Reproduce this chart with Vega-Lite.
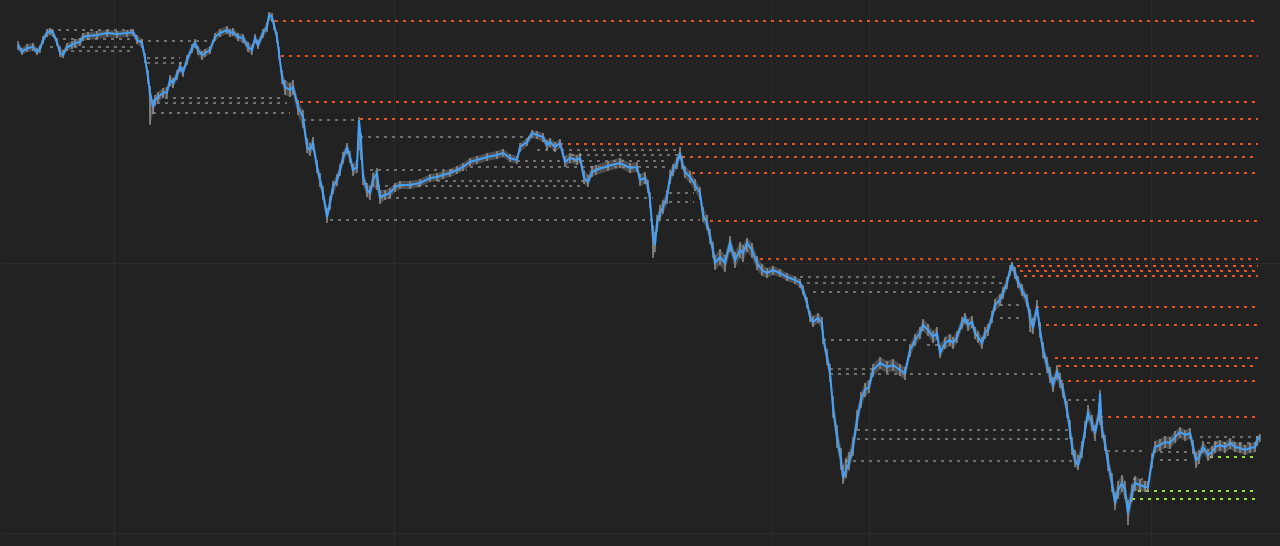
{
  "$schema": "https://vega.github.io/schema/vega-lite/v6.json",
  "width": 1280,
  "height": 546,
  "autosize": {"type": "fit", "contains": "padding"},
  "padding": 0,
  "background": "#222222",
  "config": {
    "view": {"stroke": null},
    "axis": {"labels": false, "ticks": false, "domain": false, "title": null, "grid": true, "gridColor": "#2b2b2b", "gridWidth": 1}
  },
  "datasets": {
    "px": [
      {"x":18,"c":45,"h":41,"l":50},{"x":22,"c":52,"h":48,"l":55},{"x":27,"c":48,"h":44,"l":52},{"x":33,"c":47,"h":43,"l":51},{"x":37,"c":52,"h":48,"l":55},{"x":40,"c":49,"h":45,"l":53},{"x":43,"c":40,"h":36,"l":44},{"x":47,"c":33,"h":29,"l":37},{"x":50,"c":31,"h":28,"l":35},{"x":53,"c":33,"h":30,"l":37},{"x":57,"c":42,"h":38,"l":46},{"x":60,"c":53,"h":48,"l":57},{"x":63,"c":55,"h":50,"l":58},{"x":67,"c":47,"h":43,"l":51},{"x":72,"c":45,"h":41,"l":49},{"x":75,"c":43,"h":39,"l":47},{"x":80,"c":42,"h":38,"l":46},{"x":83,"c":37,"h":33,"l":41},{"x":88,"c":36,"h":32,"l":40},{"x":97,"c":35,"h":31,"l":39},{"x":107,"c":33,"h":30,"l":37},{"x":117,"c":34,"h":31,"l":38},{"x":127,"c":33,"h":30,"l":37},{"x":133,"c":32,"h":29,"l":36},{"x":137,"c":40,"h":35,"l":44},{"x":142,"c":43,"h":39,"l":48},{"x":145,"c":58,"h":53,"l":63},{"x":148,"c":77,"h":70,"l":84},{"x":150,"c":93,"h":86,"l":125},{"x":153,"c":107,"h":100,"l":114},{"x":155,"c":100,"h":95,"l":106},{"x":158,"c":97,"h":92,"l":102},{"x":163,"c":93,"h":88,"l":98},{"x":167,"c":92,"h":87,"l":97},{"x":170,"c":80,"h":75,"l":86},{"x":173,"c":83,"h":78,"l":88},{"x":177,"c":75,"h":70,"l":80},{"x":180,"c":67,"h":62,"l":72},{"x":183,"c":72,"h":67,"l":77},{"x":187,"c":60,"h":55,"l":65},{"x":192,"c":48,"h":44,"l":53},{"x":195,"c":43,"h":39,"l":48},{"x":198,"c":50,"h":46,"l":55},{"x":202,"c":55,"h":51,"l":60},{"x":205,"c":53,"h":49,"l":57},{"x":210,"c":50,"h":46,"l":54},{"x":215,"c":37,"h":33,"l":41},{"x":220,"c":33,"h":29,"l":37},{"x":227,"c":30,"h":26,"l":34},{"x":230,"c":33,"h":29,"l":37},{"x":233,"c":32,"h":28,"l":36},{"x":238,"c":37,"h":33,"l":41},{"x":243,"c":38,"h":34,"l":43},{"x":248,"c":47,"h":42,"l":52},{"x":252,"c":50,"h":45,"l":55},{"x":255,"c":38,"h":34,"l":43},{"x":258,"c":45,"h":40,"l":49},{"x":263,"c":33,"h":29,"l":38},{"x":267,"c":27,"h":22,"l":32},{"x":269,"c":15,"h":12,"l":20},{"x":272,"c":17,"h":13,"l":22},{"x":274,"c":25,"h":20,"l":30},{"x":277,"c":37,"h":32,"l":43},{"x":279,"c":53,"h":47,"l":59},{"x":282,"c":77,"h":70,"l":84},{"x":285,"c":87,"h":80,"l":95},{"x":290,"c":90,"h":83,"l":97},{"x":293,"c":87,"h":80,"l":95},{"x":298,"c":107,"h":100,"l":115},{"x":303,"c":117,"h":110,"l":128},{"x":307,"c":147,"h":138,"l":153},{"x":310,"c":150,"h":143,"l":156},{"x":313,"c":143,"h":137,"l":150},{"x":317,"c":167,"h":160,"l":173},{"x":320,"c":180,"h":173,"l":187},{"x":323,"c":193,"h":186,"l":200},{"x":327,"c":217,"h":208,"l":223},{"x":330,"c":203,"h":196,"l":210},{"x":333,"c":187,"h":181,"l":194},{"x":337,"c":180,"h":174,"l":186},{"x":340,"c":170,"h":164,"l":176},{"x":343,"c":158,"h":152,"l":164},{"x":347,"c":148,"h":143,"l":154},{"x":350,"c":157,"h":151,"l":163},{"x":353,"c":170,"h":164,"l":176},{"x":357,"c":167,"h":160,"l":173},{"x":359,"c":120,"h":117,"l":150},{"x":361,"c":140,"h":133,"l":160},{"x":363,"c":177,"h":170,"l":185},{"x":367,"c":190,"h":183,"l":197},{"x":370,"c":193,"h":186,"l":200},{"x":373,"c":180,"h":173,"l":187},{"x":377,"c":173,"h":168,"l":190},{"x":380,"c":197,"h":190,"l":204},{"x":385,"c":195,"h":190,"l":200},{"x":390,"c":193,"h":188,"l":198},{"x":395,"c":187,"h":183,"l":192},{"x":400,"c":185,"h":181,"l":189},{"x":410,"c":185,"h":181,"l":189},{"x":420,"c":183,"h":179,"l":187},{"x":430,"c":178,"h":174,"l":182},{"x":437,"c":177,"h":173,"l":181},{"x":443,"c":175,"h":171,"l":179},{"x":450,"c":173,"h":169,"l":177},{"x":457,"c":170,"h":166,"l":174},{"x":463,"c":167,"h":163,"l":171},{"x":470,"c":162,"h":158,"l":166},{"x":477,"c":160,"h":156,"l":164},{"x":487,"c":157,"h":153,"l":161},{"x":497,"c":155,"h":151,"l":159},{"x":503,"c":153,"h":149,"l":157},{"x":510,"c":158,"h":154,"l":162},{"x":517,"c":160,"h":156,"l":164},{"x":520,"c":147,"h":143,"l":152},{"x":527,"c":142,"h":138,"l":146},{"x":532,"c":133,"h":130,"l":138},{"x":537,"c":135,"h":131,"l":139},{"x":543,"c":137,"h":133,"l":142},{"x":547,"c":145,"h":140,"l":150},{"x":550,"c":142,"h":138,"l":147},{"x":555,"c":147,"h":142,"l":152},{"x":560,"c":143,"h":139,"l":148},{"x":565,"c":162,"h":156,"l":167},{"x":570,"c":158,"h":153,"l":163},{"x":577,"c":160,"h":155,"l":165},{"x":580,"c":158,"h":153,"l":163},{"x":584,"c":178,"h":170,"l":184},{"x":588,"c":182,"h":175,"l":187},{"x":592,"c":172,"h":166,"l":177},{"x":596,"c":170,"h":165,"l":175},{"x":608,"c":166,"h":161,"l":171},{"x":620,"c":163,"h":158,"l":168},{"x":630,"c":168,"h":163,"l":173},{"x":637,"c":167,"h":162,"l":172},{"x":640,"c":180,"h":174,"l":186},{"x":645,"c":178,"h":172,"l":184},{"x":648,"c":186,"h":180,"l":193},{"x":650,"c":200,"h":192,"l":208},{"x":653,"c":237,"h":225,"l":258},{"x":655,"c":245,"h":232,"l":252},{"x":657,"c":223,"h":215,"l":232},{"x":660,"c":213,"h":205,"l":220},{"x":663,"c":207,"h":200,"l":214},{"x":667,"c":197,"h":190,"l":204},{"x":670,"c":177,"h":170,"l":184},{"x":673,"c":170,"h":164,"l":176},{"x":677,"c":163,"h":157,"l":169},{"x":680,"c":153,"h":147,"l":159},{"x":682,"c":163,"h":156,"l":169},{"x":685,"c":172,"h":166,"l":178},{"x":690,"c":177,"h":171,"l":183},{"x":695,"c":185,"h":179,"l":191},{"x":700,"c":193,"h":187,"l":200},{"x":703,"c":215,"h":207,"l":222},{"x":707,"c":223,"h":215,"l":230},{"x":710,"c":237,"h":229,"l":244},{"x":713,"c":250,"h":242,"l":258},{"x":715,"c":263,"h":255,"l":270},{"x":720,"c":257,"h":249,"l":265},{"x":725,"c":263,"h":255,"l":272},{"x":730,"c":243,"h":236,"l":252},{"x":735,"c":260,"h":252,"l":268},{"x":740,"c":250,"h":242,"l":258},{"x":743,"c":253,"h":245,"l":262},{"x":747,"c":243,"h":238,"l":252},{"x":752,"c":250,"h":243,"l":258},{"x":757,"c":263,"h":256,"l":270},{"x":762,"c":270,"h":264,"l":276},{"x":767,"c":273,"h":268,"l":278},{"x":773,"c":270,"h":266,"l":275},{"x":780,"c":273,"h":269,"l":277},{"x":787,"c":277,"h":273,"l":281},{"x":795,"c":280,"h":276,"l":284},{"x":800,"c":283,"h":279,"l":288},{"x":803,"c":290,"h":285,"l":295},{"x":807,"c":303,"h":297,"l":308},{"x":810,"c":317,"h":311,"l":322},{"x":813,"c":322,"h":316,"l":327},{"x":818,"c":318,"h":313,"l":323},{"x":822,"c":323,"h":317,"l":330},{"x":823,"c":337,"h":330,"l":344},{"x":827,"c":357,"h":349,"l":365},{"x":830,"c":373,"h":364,"l":382},{"x":833,"c":407,"h":396,"l":418},{"x":837,"c":437,"h":425,"l":448},{"x":841,"c":460,"h":448,"l":470},{"x":843,"c":478,"h":465,"l":484},{"x":846,"c":470,"h":458,"l":478},{"x":849,"c":463,"h":452,"l":470},{"x":853,"c":447,"h":437,"l":456},{"x":857,"c":420,"h":410,"l":430},{"x":861,"c":400,"h":392,"l":408},{"x":865,"c":390,"h":383,"l":397},{"x":869,"c":387,"h":380,"l":393},{"x":873,"c":370,"h":364,"l":377},{"x":880,"c":363,"h":357,"l":369},{"x":887,"c":367,"h":361,"l":373},{"x":893,"c":365,"h":359,"l":371},{"x":900,"c":370,"h":364,"l":376},{"x":905,"c":373,"h":367,"l":380},{"x":910,"c":350,"h":344,"l":357},{"x":915,"c":340,"h":334,"l":346},{"x":920,"c":333,"h":327,"l":339},{"x":923,"c":325,"h":319,"l":331},{"x":928,"c":330,"h":324,"l":336},{"x":933,"c":337,"h":331,"l":343},{"x":937,"c":333,"h":327,"l":340},{"x":940,"c":353,"h":345,"l":358},{"x":945,"c":343,"h":337,"l":349},{"x":950,"c":340,"h":334,"l":346},{"x":953,"c":343,"h":337,"l":349},{"x":957,"c":337,"h":331,"l":343},{"x":962,"c":323,"h":317,"l":329},{"x":965,"c":318,"h":313,"l":324},{"x":968,"c":325,"h":319,"l":331},{"x":972,"c":322,"h":316,"l":328},{"x":975,"c":333,"h":327,"l":339},{"x":978,"c":337,"h":331,"l":343},{"x":982,"c":343,"h":337,"l":349},{"x":985,"c":333,"h":327,"l":339},{"x":988,"c":330,"h":324,"l":336},{"x":992,"c":317,"h":311,"l":323},{"x":995,"c":305,"h":299,"l":311},{"x":1000,"c":300,"h":294,"l":306},{"x":1003,"c":293,"h":287,"l":299},{"x":1007,"c":283,"h":277,"l":289},{"x":1010,"c":270,"h":265,"l":276},{"x":1012,"c":265,"h":262,"l":271},{"x":1015,"c":273,"h":267,"l":279},{"x":1018,"c":282,"h":276,"l":288},{"x":1022,"c":290,"h":284,"l":296},{"x":1027,"c":300,"h":294,"l":307},{"x":1030,"c":317,"h":309,"l":332},{"x":1033,"c":328,"h":318,"l":334},{"x":1037,"c":307,"h":300,"l":315},{"x":1040,"c":330,"h":322,"l":338},{"x":1043,"c":350,"h":342,"l":358},{"x":1047,"c":365,"h":357,"l":373},{"x":1050,"c":375,"h":367,"l":383},{"x":1053,"c":385,"h":377,"l":392},{"x":1057,"c":372,"h":365,"l":380},{"x":1060,"c":380,"h":373,"l":388},{"x":1063,"c":390,"h":383,"l":398},{"x":1067,"c":410,"h":401,"l":418},{"x":1070,"c":430,"h":420,"l":439},{"x":1072,"c":447,"h":437,"l":455},{"x":1075,"c":460,"h":450,"l":467},{"x":1078,"c":465,"h":455,"l":470},{"x":1082,"c":450,"h":441,"l":458},{"x":1085,"c":430,"h":421,"l":438},{"x":1088,"c":413,"h":405,"l":421},{"x":1092,"c":423,"h":415,"l":431},{"x":1095,"c":433,"h":425,"l":441},{"x":1099,"c":413,"h":403,"l":421},{"x":1100,"c":393,"h":390,"l":425},{"x":1102,"c":430,"h":420,"l":438},{"x":1105,"c":443,"h":435,"l":451},{"x":1108,"c":463,"h":453,"l":471},{"x":1112,"c":483,"h":473,"l":492},{"x":1115,"c":503,"h":492,"l":510},{"x":1118,"c":490,"h":481,"l":499},{"x":1122,"c":483,"h":475,"l":492},{"x":1125,"c":490,"h":481,"l":499},{"x":1128,"c":513,"h":500,"l":525},{"x":1132,"c":493,"h":484,"l":502},{"x":1135,"c":483,"h":476,"l":491},{"x":1140,"c":485,"h":479,"l":491},{"x":1145,"c":487,"h":481,"l":492},{"x":1148,"c":487,"h":481,"l":492},{"x":1152,"c":460,"h":453,"l":468},{"x":1155,"c":447,"h":441,"l":453},{"x":1160,"c":445,"h":439,"l":451},{"x":1165,"c":442,"h":436,"l":448},{"x":1170,"c":443,"h":437,"l":449},{"x":1175,"c":437,"h":431,"l":443},{"x":1180,"c":432,"h":427,"l":438},{"x":1185,"c":435,"h":430,"l":441},{"x":1190,"c":433,"h":428,"l":439},{"x":1193,"c":447,"h":440,"l":454},{"x":1196,"c":460,"h":452,"l":468},{"x":1199,"c":457,"h":450,"l":464},{"x":1203,"c":447,"h":441,"l":453},{"x":1208,"c":455,"h":449,"l":461},{"x":1212,"c":452,"h":446,"l":458},{"x":1215,"c":447,"h":441,"l":453},{"x":1220,"c":445,"h":440,"l":451},{"x":1225,"c":447,"h":442,"l":453},{"x":1230,"c":443,"h":438,"l":449},{"x":1235,"c":447,"h":442,"l":452},{"x":1240,"c":448,"h":443,"l":453},{"x":1245,"c":450,"h":445,"l":455},{"x":1250,"c":448,"h":443,"l":453},{"x":1255,"c":447,"h":442,"l":452},{"x":1257,"c":440,"h":436,"l":446},{"x":1260,"c":437,"h":434,"l":442}
    ],
    "lv": [
      {"k":"orange","y":21,"x1":275,"x2":1258},{"k":"orange","y":56,"x1":281,"x2":1258},{"k":"orange","y":102,"x1":300,"x2":1258},{"k":"orange","y":119,"x1":360,"x2":1258},{"k":"orange","y":144,"x1":560,"x2":1258},{"k":"orange","y":157,"x1":682,"x2":1258},{"k":"orange","y":173,"x1":692,"x2":1258},{"k":"orange","y":221,"x1":710,"x2":1258},{"k":"orange","y":259,"x1":760,"x2":1258},{"k":"orange","y":266,"x1":1017,"x2":1258},{"k":"orange","y":271,"x1":1020,"x2":1258},{"k":"orange","y":276,"x1":1024,"x2":1258},{"k":"orange","y":307,"x1":1036,"x2":1258},{"k":"orange","y":325,"x1":1038,"x2":1258},{"k":"orange","y":358,"x1":1055,"x2":1258},{"k":"orange","y":366,"x1":1058,"x2":1258},{"k":"orange","y":381,"x1":1060,"x2":1258},{"k":"orange","y":417,"x1":1100,"x2":1258},
      {"k":"green","y":457,"x1":1210,"x2":1258},{"k":"green","y":491,"x1":1138,"x2":1258},{"k":"green","y":499,"x1":1132,"x2":1258},
      {"k":"gray","y":30,"x1":50,"x2":133},{"k":"gray","y":39,"x1":63,"x2":133},{"k":"gray","y":47,"x1":50,"x2":133},{"k":"gray","y":51,"x1":63,"x2":133},{"k":"gray","y":41,"x1":140,"x2":215},{"k":"gray","y":58,"x1":147,"x2":180},{"k":"gray","y":63,"x1":147,"x2":187},{"k":"gray","y":98,"x1":157,"x2":283},{"k":"gray","y":103,"x1":157,"x2":287},{"k":"gray","y":113,"x1":153,"x2":290},{"k":"gray","y":120,"x1":303,"x2":357},{"k":"gray","y":137,"x1":360,"x2":530},{"k":"gray","y":150,"x1":537,"x2":680},{"k":"gray","y":155,"x1":571,"x2":678},{"k":"gray","y":161,"x1":517,"x2":669},{"k":"gray","y":167,"x1":470,"x2":669},{"k":"gray","y":170,"x1":370,"x2":467},{"k":"gray","y":181,"x1":437,"x2":584},{"k":"gray","y":186,"x1":377,"x2":584},{"k":"gray","y":193,"x1":669,"x2":694},{"k":"gray","y":198,"x1":380,"x2":653},{"k":"gray","y":202,"x1":669,"x2":694},{"k":"gray","y":220,"x1":330,"x2":700},{"k":"gray","y":277,"x1":800,"x2":1000},{"k":"gray","y":283,"x1":807,"x2":1003},{"k":"gray","y":292,"x1":813,"x2":993},{"k":"gray","y":305,"x1":1000,"x2":1020},{"k":"gray","y":318,"x1":1000,"x2":1020},{"k":"gray","y":340,"x1":823,"x2":910},{"k":"gray","y":345,"x1":927,"x2":940},{"k":"gray","y":369,"x1":830,"x2":873},{"k":"gray","y":374,"x1":830,"x2":1045},{"k":"gray","y":400,"x1":1068,"x2":1097},{"k":"gray","y":430,"x1":857,"x2":1070},{"k":"gray","y":439,"x1":857,"x2":1070},{"k":"gray","y":461,"x1":845,"x2":1073},{"k":"gray","y":451,"x1":1107,"x2":1147},{"k":"gray","y":452,"x1":1160,"x2":1193},{"k":"gray","y":460,"x1":1160,"x2":1187},{"k":"gray","y":437,"x1":1200,"x2":1260},{"k":"gray","y":443,"x1":1207,"x2":1257},{"k":"gray","y":479,"x1":1133,"x2":1143}
    ]
  },
  "encoding": {
    "x": {"type": "quantitative", "scale": {"domain": [0, 1280], "nice": false, "zero": false}, "axis": {"values": [114, 394, 771, 869, 1151]}},
    "y": {"type": "quantitative", "scale": {"domain": [0, 546], "nice": false, "zero": false, "reverse": true}, "axis": {"values": [263, 533]}}
  },
  "layer": [
    {
      "data": {"name": "lv"},
      "transform": [{"filter": "datum.k === 'gray'"}],
      "mark": {"type": "rule", "color": "#8a8a8a", "strokeWidth": 1.5, "strokeDash": [3, 5]},
      "encoding": {"x": {"field": "x1"}, "x2": {"field": "x2"}, "y": {"field": "y"}}
    },
    {
      "data": {"name": "lv"},
      "transform": [{"filter": "datum.k !== 'gray'"}],
      "mark": {"type": "rule", "strokeWidth": 2, "strokeDash": [3, 5]},
      "encoding": {
        "x": {"field": "x1"}, "x2": {"field": "x2"}, "y": {"field": "y"},
        "color": {"field": "k", "type": "nominal", "scale": {"domain": ["orange", "green"], "range": ["#e8521e", "#9ae62c"]}, "legend": null}
      }
    },
    {
      "data": {"name": "px"},
      "mark": {"type": "area", "color": "#8f8f8f", "opacity": 0.4, "interpolate": "linear"},
      "encoding": {"x": {"field": "x"}, "y": {"field": "h"}, "y2": {"field": "l"}}
    },
    {
      "data": {"name": "px"},
      "mark": {"type": "rule", "color": "#a0a0a0", "strokeWidth": 1.5, "opacity": 0.8},
      "encoding": {"x": {"field": "x"}, "y": {"field": "h"}, "y2": {"field": "l"}}
    },
    {
      "data": {"name": "px"},
      "mark": {"type": "line", "color": "#45a0f7", "strokeWidth": 2},
      "encoding": {"x": {"field": "x"}, "y": {"field": "c"}}
    }
  ]
}
